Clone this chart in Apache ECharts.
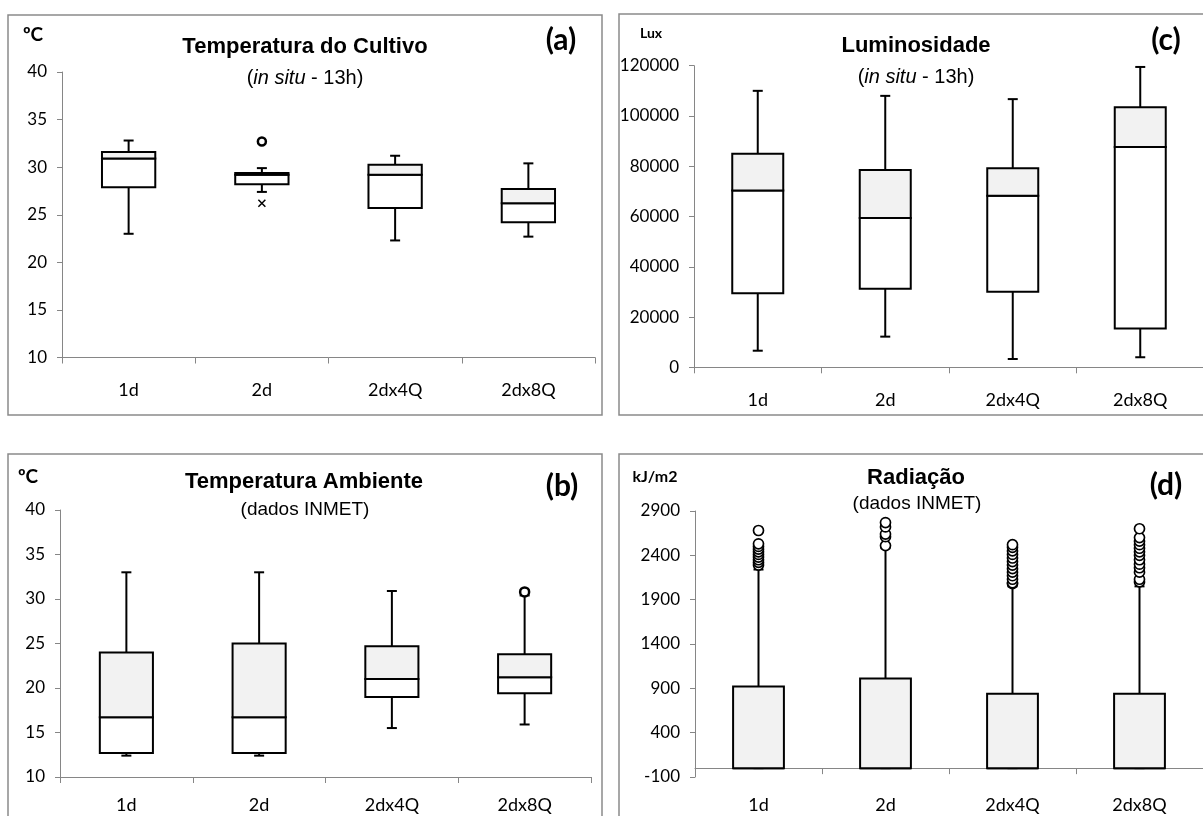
<!DOCTYPE html>
<html>
<head>
<meta charset="utf-8">
<script src="https://cdn.jsdelivr.net/npm/echarts@6/dist/echarts.min.js"></script>
<style>
html,body{margin:0;padding:0;background:#fff;}
#main{width:1203px;height:816px;}
</style>
</head>
<body>
<div id="main"></div>
<script>
// 类别
var categorias = ['1d', '2d', '2dx4Q', '2dx8Q'];

// (a) Temperatura do Cultivo: [min, Q1, mediana, Q3, max]
var tempCultivo = [
  [23.0, 27.9, 30.9, 31.6, 32.8],
  [27.4, 28.2, 29.2, 29.4, 29.9],
  [22.3, 25.7, 29.2, 30.25, 31.2],
  [22.7, 24.2, 26.2, 27.7, 30.4]
];
var tempCultivoOut = [[1, 32.7]];
var tempCultivoX = [[1, 26.2]];

// (c) Luminosidade
var luminosidade = [
  [6600, 29500, 70300, 85000, 110000],
  [12200, 31300, 59400, 78500, 108000],
  [3300, 30100, 68300, 79200, 106700],
  [4000, 15400, 87700, 103500, 119500]
];

// (b) Temperatura Ambiente
var tempAmbiente = [
  [12.4, 12.7, 16.7, 24.0, 33.0],
  [12.4, 12.7, 16.7, 25.0, 33.0],
  [15.5, 19.0, 21.0, 24.7, 30.9],
  [15.9, 19.4, 21.2, 23.8, 30.4]
];
var tempAmbienteOut = [[3, 30.8]];

// (d) Radiação
var radiacao = [
  [0, 0, 0, 920, 2240],
  [0, 0, 0, 1010, 2480],
  [0, 0, 0, 840, 2050],
  [0, 0, 0, 840, 2050]
];
var radiacaoOut = [
  [0, 2290], [0, 2320], [0, 2350], [0, 2380], [0, 2410], [0, 2440], [0, 2470], [0, 2500], [0, 2530], [0, 2680],
  [1, 2510], [1, 2610], [1, 2640], [1, 2720], [1, 2770],
  [2, 2080], [2, 2090], [2, 2130], [2, 2170], [2, 2210], [2, 2250], [2, 2290], [2, 2330], [2, 2370], [2, 2410], [2, 2450], [2, 2490], [2, 2520],
  [3, 2100], [3, 2130], [3, 2210], [3, 2260], [3, 2300], [3, 2350], [3, 2400], [3, 2440], [3, 2480], [3, 2520], [3, 2560], [3, 2600], [3, 2700]
];

var fonteEixo = 'Lato, "Open Sans", sans-serif';
var fonteTitulo = '"Liberation Sans", Arial, sans-serif';

// 箱线数据 -> [idx, min, q1, med, q3, max]
function boxData(arr) {
  return arr.map(function (d, i) { return [i].concat(d); });
}

// 绘制箱体
function renderBox(params, api) {
  var x = api.value(0);
  var lo = api.coord([x, api.value(1)]);
  var q1 = api.coord([x, api.value(2)]);
  var md = api.coord([x, api.value(3)]);
  var q3 = api.coord([x, api.value(4)]);
  var hi = api.coord([x, api.value(5)]);
  var w = api.size([1, 0])[0] * 0.4;
  var cx = lo[0];
  var cap = 5;
  var line = { stroke: '#000', lineWidth: 2 };
  return {
    type: 'group',
    children: [
      { type: 'line', shape: { x1: cx, y1: lo[1], x2: cx, y2: q1[1] }, style: line },
      { type: 'line', shape: { x1: cx - cap, y1: lo[1], x2: cx + cap, y2: lo[1] }, style: line },
      { type: 'line', shape: { x1: cx, y1: q3[1], x2: cx, y2: hi[1] }, style: line },
      { type: 'line', shape: { x1: cx - cap, y1: hi[1], x2: cx + cap, y2: hi[1] }, style: line },
      { type: 'rect', shape: { x: cx - w / 2, y: md[1], width: w, height: q1[1] - md[1] }, style: { fill: '#fff', stroke: '#000', lineWidth: 2 } },
      { type: 'rect', shape: { x: cx - w / 2, y: q3[1], width: w, height: md[1] - q3[1] }, style: { fill: '#f2f2f2', stroke: '#000', lineWidth: 2 } }
    ]
  };
}

function eixoX(idx, margem) {
  return {
    type: 'category', gridIndex: idx, data: categorias,
    axisLine: { lineStyle: { color: '#868686', width: 1 } },
    axisTick: { show: true, length: 6, lineStyle: { color: '#868686' } },
    axisLabel: { color: '#000', fontFamily: fonteEixo, fontSize: 18, margin: margem },
    splitLine: { show: false }
  };
}

function eixoY(idx, min, max, interval) {
  return {
    type: 'value', gridIndex: idx, min: min, max: max, interval: interval,
    axisLine: { show: true, lineStyle: { color: '#868686', width: 1 } },
    axisTick: { show: true, length: 5, lineStyle: { color: '#868686' } },
    axisLabel: { color: '#000', fontFamily: fonteEixo, fontSize: 17, margin: 15, formatter: function (v) { return String(v); } },
    splitLine: { show: false }
  };
}

function texto(x, y, t, size, bold, fam) {
  return {
    type: 'text', x: x, y: y, silent: true,
    style: { text: t, fontSize: size, fontWeight: bold ? 'bold' : 'normal', fontFamily: fam, fill: '#000', align: 'center', verticalAlign: 'middle' }
  };
}

function subInSitu(x, y) {
  return {
    type: 'text', x: x, y: y, silent: true,
    style: {
      text: '{n|(}{i|in situ}{n| - 13h)}', align: 'center', verticalAlign: 'middle',
      rich: {
        n: { fontSize: 20, fontFamily: fonteTitulo, fill: '#000' },
        i: { fontSize: 20, fontFamily: fonteTitulo, fontStyle: 'italic', fill: '#000' }
      }
    }
  };
}

function moldura(x, y, w, h) {
  return { type: 'rect', silent: true, z: -1, shape: { x: x, y: y, width: w, height: h }, style: { fill: 'none', stroke: '#8a8a8a', lineWidth: 1.5 } };
}

var myChart = echarts.init(document.getElementById('main'), null, { renderer: 'canvas' });

var option = {
  animation: false,
  backgroundColor: '#fff',
  grid: [
    { left: 62, top: 72, width: 533, height: 285.5, outerBoundsMode: 'none', containLabel: false },
    { left: 694, top: 65.7, width: 510, height: 301.6, outerBoundsMode: 'none', containLabel: false },
    { left: 60, top: 510, width: 531, height: 267, outerBoundsMode: 'none', containLabel: false },
    { left: 695, top: 511, width: 508, height: 266, outerBoundsMode: 'none', containLabel: false }
  ],
  xAxis: [eixoX(0, 24), eixoX(1, 24), eixoX(2, 19), eixoX(3, 19)],
  yAxis: [
    eixoY(0, 10, 40, 5),
    eixoY(1, 0, 120000, 20000),
    eixoY(2, 10, 40, 5),
    eixoY(3, -100, 2900, 500)
  ],
  graphic: [
    moldura(8, 15, 594, 400),
    moldura(619, 14, 600, 401),
    moldura(8, 454, 594, 380),
    moldura(619, 454, 600, 380),
    // (a)
    texto(305, 47, 'Temperatura do Cultivo', 22, true, fonteTitulo),
    subInSitu(305, 78),
    texto(561, 40, '(a)', 30, true, fonteEixo),
    texto(33, 35, 'ºC', 19, true, fonteEixo),
    // (c)
    texto(916, 46, 'Luminosidade', 22, true, fonteTitulo),
    subInSitu(916, 77),
    texto(1166, 40, '(c)', 30, true, fonteEixo),
    texto(651, 33, 'Lux', 14, true, fonteEixo),
    // (b)
    texto(304, 482, 'Temperatura Ambiente', 22, true, fonteTitulo),
    texto(305, 510, '(dados INMET)', 19, false, fonteTitulo),
    texto(562, 486, '(b)', 30, true, fonteEixo),
    texto(28, 477, 'ºC', 19, true, fonteEixo),
    // (d)
    texto(916, 478, 'Radiação', 22, true, fonteTitulo),
    texto(917, 504, '(dados INMET)', 19, false, fonteTitulo),
    texto(1166, 485, '(d)', 30, true, fonteEixo),
    texto(655, 477, 'kJ/m2', 16, true, fonteEixo)
  ],
  series: [
    { type: 'custom', xAxisIndex: 0, yAxisIndex: 0, renderItem: renderBox, data: boxData(tempCultivo), encode: { x: 0, y: [1, 2, 3, 4, 5] } },
    { type: 'custom', xAxisIndex: 1, yAxisIndex: 1, renderItem: renderBox, data: boxData(luminosidade), encode: { x: 0, y: [1, 2, 3, 4, 5] } },
    { type: 'custom', xAxisIndex: 2, yAxisIndex: 2, renderItem: renderBox, data: boxData(tempAmbiente), encode: { x: 0, y: [1, 2, 3, 4, 5] } },
    { type: 'custom', xAxisIndex: 3, yAxisIndex: 3, renderItem: renderBox, data: boxData(radiacao), encode: { x: 0, y: [1, 2, 3, 4, 5] } },
    // 离群点
    { type: 'scatter', xAxisIndex: 0, yAxisIndex: 0, data: tempCultivoOut, symbol: 'circle', symbolSize: 8, itemStyle: { color: '#fff', borderColor: '#000', borderWidth: 2.5, opacity: 1 } },
    { type: 'scatter', xAxisIndex: 0, yAxisIndex: 0, data: tempCultivoX, symbol: 'path://M0,0L10,10M10,0L0,10', symbolSize: 7, itemStyle: { color: 'transparent', borderColor: '#000', borderWidth: 1.5, opacity: 1 } },
    { type: 'scatter', xAxisIndex: 2, yAxisIndex: 2, data: tempAmbienteOut, symbol: 'circle', symbolSize: 9, itemStyle: { color: '#fff', borderColor: '#000', borderWidth: 2.5, opacity: 1 } },
    { type: 'scatter', xAxisIndex: 3, yAxisIndex: 3, data: radiacaoOut, symbol: 'circle', symbolSize: 10, itemStyle: { color: '#fff', borderColor: '#000', borderWidth: 1.7, opacity: 1 } }
  ]
};
myChart.setOption(option);
</script>
</body>
</html>
